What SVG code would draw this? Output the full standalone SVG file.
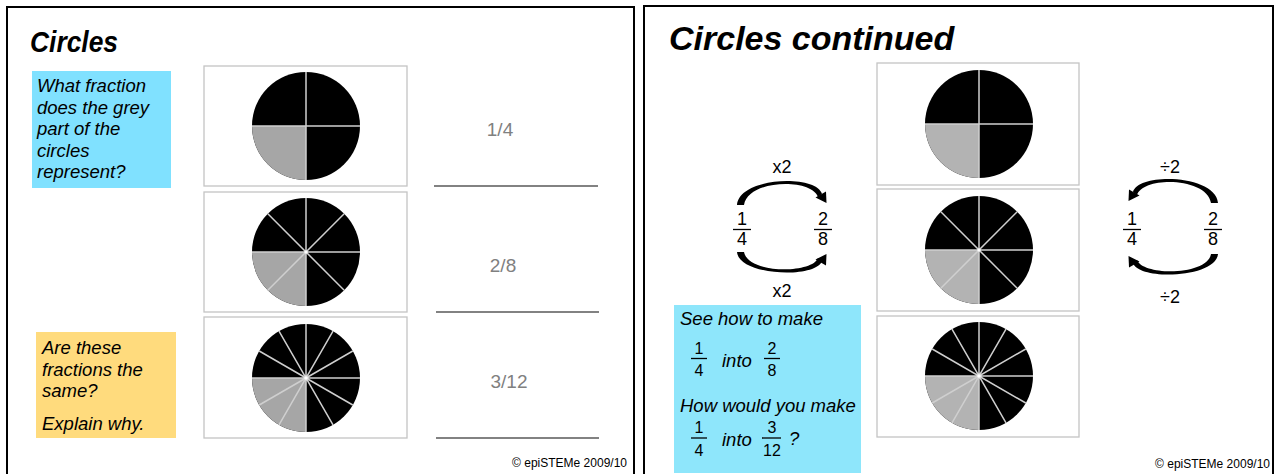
<svg xmlns="http://www.w3.org/2000/svg" xmlns:xlink="http://www.w3.org/1999/xlink" width="1276" height="474" viewBox="0 0 1276 474">
<style>
.panel{fill:#fff;stroke:#000;stroke-width:2}
.imgbox{fill:#fff;stroke:#c4c4c4;stroke-width:1.3}
.div{stroke:#cfcfcf;stroke-width:1.5;fill:none}
.t{font-family:"Liberation Sans",Arial,sans-serif;fill:#000}
.q{font-family:"Liberation Sans",Arial,sans-serif;font-style:italic;font-size:18.5px;fill:#000}
.ans{font-family:"Liberation Sans",Arial,sans-serif;font-size:19px;fill:#808080;text-anchor:middle}
.ansline{stroke:#595959;stroke-width:1.5}
.frac{font-family:"Liberation Sans",Arial,sans-serif;font-size:18px;fill:#000;text-anchor:middle}
.fracs{font-family:"Liberation Sans",Arial,sans-serif;font-size:16px;fill:#000;text-anchor:middle}
.fl{stroke:#000;stroke-width:1.3}
.copy{font-family:"Liberation Sans",Arial,sans-serif;font-size:12px;fill:#000;text-anchor:end}
</style>
<defs>
<g id="pie4">
<circle r="54" fill="#000"/>
<path d="M0,0 L-54,0 A54,54 0 0 0 0,54 Z" fill="currentColor"/>
<path class="div" d="M-54,0H54M0,-54V54"/>
</g>
<g id="pie8">
<circle r="54" fill="#000"/>
<path d="M0,0 L-54,0 A54,54 0 0 0 0,54 Z" fill="currentColor"/>
<path class="div" d="M-54,0H54M0,-54V54M-38.18,-38.18L38.18,38.18M38.18,-38.18L-38.18,38.18"/>
<circle r="1.6" fill="#fff"/>
</g>
<g id="pie12">
<circle r="54" fill="#000"/>
<path d="M0,0 L-54,0 A54,54 0 0 0 0,54 Z" fill="currentColor"/>
<path class="div" d="M-54,0H54M0,-54V54M-46.77,-27L46.77,27M-27,-46.77L27,46.77M46.77,-27L-46.77,27M27,-46.77L-27,46.77"/>
<circle r="1.8" fill="#fff"/>
</g>
<g id="arrowTop">
<path d="M737,205 C739,177 816,174 822,194 L818,197 C812,178 748,179 744,205 Z" fill="#000"/>
<polygon points="826.5,203 826,191.5 815.5,197.5" fill="#000"/>
</g>
<g id="arrowBot">
<path d="M737,252 C739,276 816,279 822,261 L818,258 C812,274 748,274 744,252 Z" fill="#000"/>
<polygon points="826.5,254 826,265.5 815.5,259.5" fill="#000"/>
</g>
</defs>

<g id="panel-left">
<rect class="panel" x="7" y="7" width="627" height="480"/>
<text class="t" x="30" y="52" font-family="'Open Sans','Liberation Sans',sans-serif" font-weight="700" font-style="italic" font-size="30" textLength="88" lengthAdjust="spacingAndGlyphs">Circles</text>
</g>

<g id="question-box">
<rect x="32" y="71" width="139" height="117" fill="#80e1ff"/>
<text class="q"><tspan x="37" y="92">What fraction</tspan><tspan x="37" y="113.5">does the grey</tspan><tspan x="37" y="135">part of the</tspan><tspan x="37" y="156.5">circles</tspan><tspan x="37" y="178">represent?</tspan></text>
</g>

<g id="same-box">
<rect x="36" y="332" width="140" height="106" fill="#ffdb7d"/>
<text class="q"><tspan x="42" y="354">Are these</tspan><tspan x="42" y="375.5">fractions the</tspan><tspan x="42" y="397">same?</tspan><tspan x="42" y="430">Explain why.</tspan></text>
</g>

<g id="left-circles">
<rect class="imgbox" x="204" y="66" width="203" height="120"/>
<rect class="imgbox" x="204" y="192" width="203" height="120"/>
<rect class="imgbox" x="204" y="317" width="203" height="121"/>
<use xlink:href="#pie4" href="#pie4" transform="translate(306,126)" color="#a6a6a6"/>
<use xlink:href="#pie8" href="#pie8" transform="translate(306,252)" color="#a6a6a6"/>
<use xlink:href="#pie12" href="#pie12" transform="translate(306,378)" color="#a6a6a6"/>
</g>

<g id="answers">
<text class="ans" x="500" y="136">1/4</text>
<line class="ansline" x1="434" y1="186" x2="598" y2="186"/>
<text class="ans" x="503" y="272">2/8</text>
<line class="ansline" x1="436" y1="312" x2="599" y2="312"/>
<text class="ans" x="509" y="388">3/12</text>
<line class="ansline" x1="436" y1="438" x2="599" y2="438"/>
</g>

<text class="copy" x="627" y="467">© epiSTEMe 2009/10</text>

<g id="panel-right">
<rect class="panel" x="644" y="6" width="629" height="480"/>
<text class="t" x="669" y="50" font-weight="700" font-style="italic" font-size="34">Circles continued</text>
</g>

<g id="right-circles">
<rect class="imgbox" x="877" y="63" width="202" height="122"/>
<rect class="imgbox" x="877" y="189" width="202" height="122"/>
<rect class="imgbox" x="877" y="316" width="202" height="121"/>
<use xlink:href="#pie4" href="#pie4" transform="translate(979,124)" color="#b3b3b3"/>
<use xlink:href="#pie8" href="#pie8" transform="translate(979,250)" color="#b3b3b3"/>
<use xlink:href="#pie12" href="#pie12" transform="translate(979,376)" color="#b3b3b3"/>
</g>

<g id="connectors">
<use xlink:href="#arrowTop" href="#arrowTop"/>
<use xlink:href="#arrowBot" href="#arrowBot"/>
<use xlink:href="#arrowTop" href="#arrowTop" transform="translate(1955,-2) scale(-1,1)"/>
<use xlink:href="#arrowBot" href="#arrowBot" transform="translate(1955,2) scale(-1,1)"/>
</g>

<g id="mult-labels">
<text class="frac" x="782" y="173" font-size="19">x2</text>
<text class="frac" x="782" y="297" font-size="19">x2</text>
<text class="frac" x="1170" y="173" font-size="19">÷2</text>
<text class="frac" x="1170" y="303" font-size="19">÷2</text>
</g>

<g id="frac-left-14">
<text class="frac" x="742" y="225">1</text>
<line class="fl" x1="733" y1="229.5" x2="751" y2="229.5"/>
<text class="frac" x="742" y="245">4</text>
</g>
<g id="frac-left-28">
<text class="frac" x="823" y="225">2</text>
<line class="fl" x1="814" y1="229.5" x2="832" y2="229.5"/>
<text class="frac" x="823" y="245">8</text>
</g>
<g id="frac-right-14">
<text class="frac" x="1132" y="225">1</text>
<line class="fl" x1="1123" y1="229.5" x2="1141" y2="229.5"/>
<text class="frac" x="1132" y="245">4</text>
</g>
<g id="frac-right-28">
<text class="frac" x="1213" y="225">2</text>
<line class="fl" x1="1204" y1="229.5" x2="1222" y2="229.5"/>
<text class="frac" x="1213" y="245">8</text>
</g>

<g id="hint-box">
<rect x="674" y="305" width="187" height="168" fill="#8ee6fb"/>
<text class="q" x="680" y="325">See how to make</text>
<text class="fracs" x="699" y="354">1</text>
<line class="fl" x1="691" y1="358.5" x2="707" y2="358.5"/>
<text class="fracs" x="699" y="376">4</text>
<text class="q" x="722" y="367" font-size="17">into</text>
<text class="fracs" x="772" y="354">2</text>
<line class="fl" x1="764" y1="358.5" x2="780" y2="358.5"/>
<text class="fracs" x="772" y="376">8</text>
<text class="q" x="680" y="412">How would you make</text>
<text class="fracs" x="699" y="433">1</text>
<line class="fl" x1="691" y1="438" x2="707" y2="438"/>
<text class="fracs" x="699" y="456">4</text>
<text class="q" x="722" y="446" font-size="17">into</text>
<text class="fracs" x="772" y="433">3</text>
<line class="fl" x1="762" y1="438" x2="781" y2="438"/>
<text class="fracs" x="772" y="456">12</text>
<text class="q" x="789" y="445" font-size="17">?</text>
</g>

<text class="copy" x="1270" y="468">© epiSTEMe 2009/10</text>
</svg>
